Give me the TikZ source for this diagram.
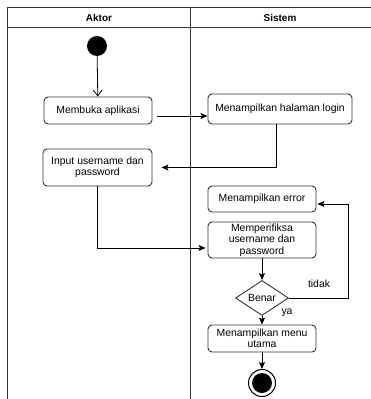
\documentclass[tikz,border=0pt]{standalone}
\usepackage{fontspec}
\setmainfont{Liberation Sans}
\usetikzlibrary{arrows.meta,shapes.geometric,calc}
\begin{document}
\begin{tikzpicture}[x=1pt,y=-1pt,
  lane/.style={draw=black!80,line width=0.9pt},
  act/.style={draw=black!80,line width=0.9pt,rounded corners=4pt,fill=white,
    font=\fontsize{10.4}{11.5}\selectfont,align=center,inner sep=1pt},
  arr/.style={draw=black,line width=0.8pt,-{Stealth[length=7pt,width=6pt,inset=1.5pt]}},
  lbl/.style={font=\fontsize{10.4}{11.5}\selectfont,inner sep=0pt},
  hdr/.style={font=\bfseries\fontsize{10}{11}\selectfont,inner sep=0pt}]
\useasboundingbox (0,0) rectangle (371,399);
% swimlanes
\draw[lane] (7.5,400) -- (7.5,7) -- (372,7);
\draw[lane] (7.5,27) -- (372,27);
\draw[lane] (190.5,7) -- (190.5,400);
\node[hdr] (hA) at (99,17.5) {Aktor};
\node[hdr] (hS) at (280,17.5) {Sistem};
% nodes
\node[circle,fill=black,minimum size=20pt,inner sep=0pt] (start) at (97,46) {};
\node[act,minimum width=108pt,minimum height=27pt] (membuka) at (98,110.5) {Membuka aplikasi};
\node[act,minimum width=144pt,minimum height=30pt] (login) at (280,109) {Menampilkan halaman login};
\node[act,minimum width=109pt,minimum height=37pt] (input) at (97.5,167.5) {Input username dan\\password};
\node[act,minimum width=108pt,minimum height=26pt] (error) at (262,199) {Menampilkan error};
\node[act,minimum width=108pt,minimum height=36pt,inner sep=0pt] (cek) at (262,240) {Memperifiksa\\username dan\\password};
\node[diamond,draw=black!80,line width=0.9pt,minimum width=53pt,minimum height=26pt,inner sep=0pt,
  font=\fontsize{10.4}{11.5}\selectfont] (dec) at (262,298) {Benar};
\node[act,minimum width=108pt,minimum height=27pt] (menu) at (262,338.5) {Menampilkan menu\\utama};
\node[circle,draw=black,line width=1pt,minimum size=27pt,inner sep=0pt] (end) at (262,383) {};
\node[circle,fill=black,minimum size=20pt,inner sep=0pt] (endin) at (end) {};
% connectors
\draw[line width=0.8pt,-{Straight Barb[length=6pt,width=9pt]}] (start) -- (membuka);
\draw[arr] ([xshift=5pt,yshift=-5.5pt]membuka.east) -- ([yshift=-7pt]login.west);
\draw[arr] ([xshift=-4pt]login.south) |- ([xshift=9pt]input.east);
\draw[arr] (input.south) |- ([xshift=-2pt,yshift=-8pt]cek.west);
\draw[arr] (cek.south) -- (dec.north);
\coordinate (loop) at (348,298);
\draw[arr] (dec.east) -- (loop) |- ([xshift=1pt,yshift=-5pt]error.east);
\draw[arr] (dec.south) -- (menu.north);
\draw[arr] (menu.south) -- (end.north);
\node[lbl] (tidak) at (319,284) {tidak};
\node[lbl] (ya) at (287,313) {ya};
\end{tikzpicture}
\end{document}
